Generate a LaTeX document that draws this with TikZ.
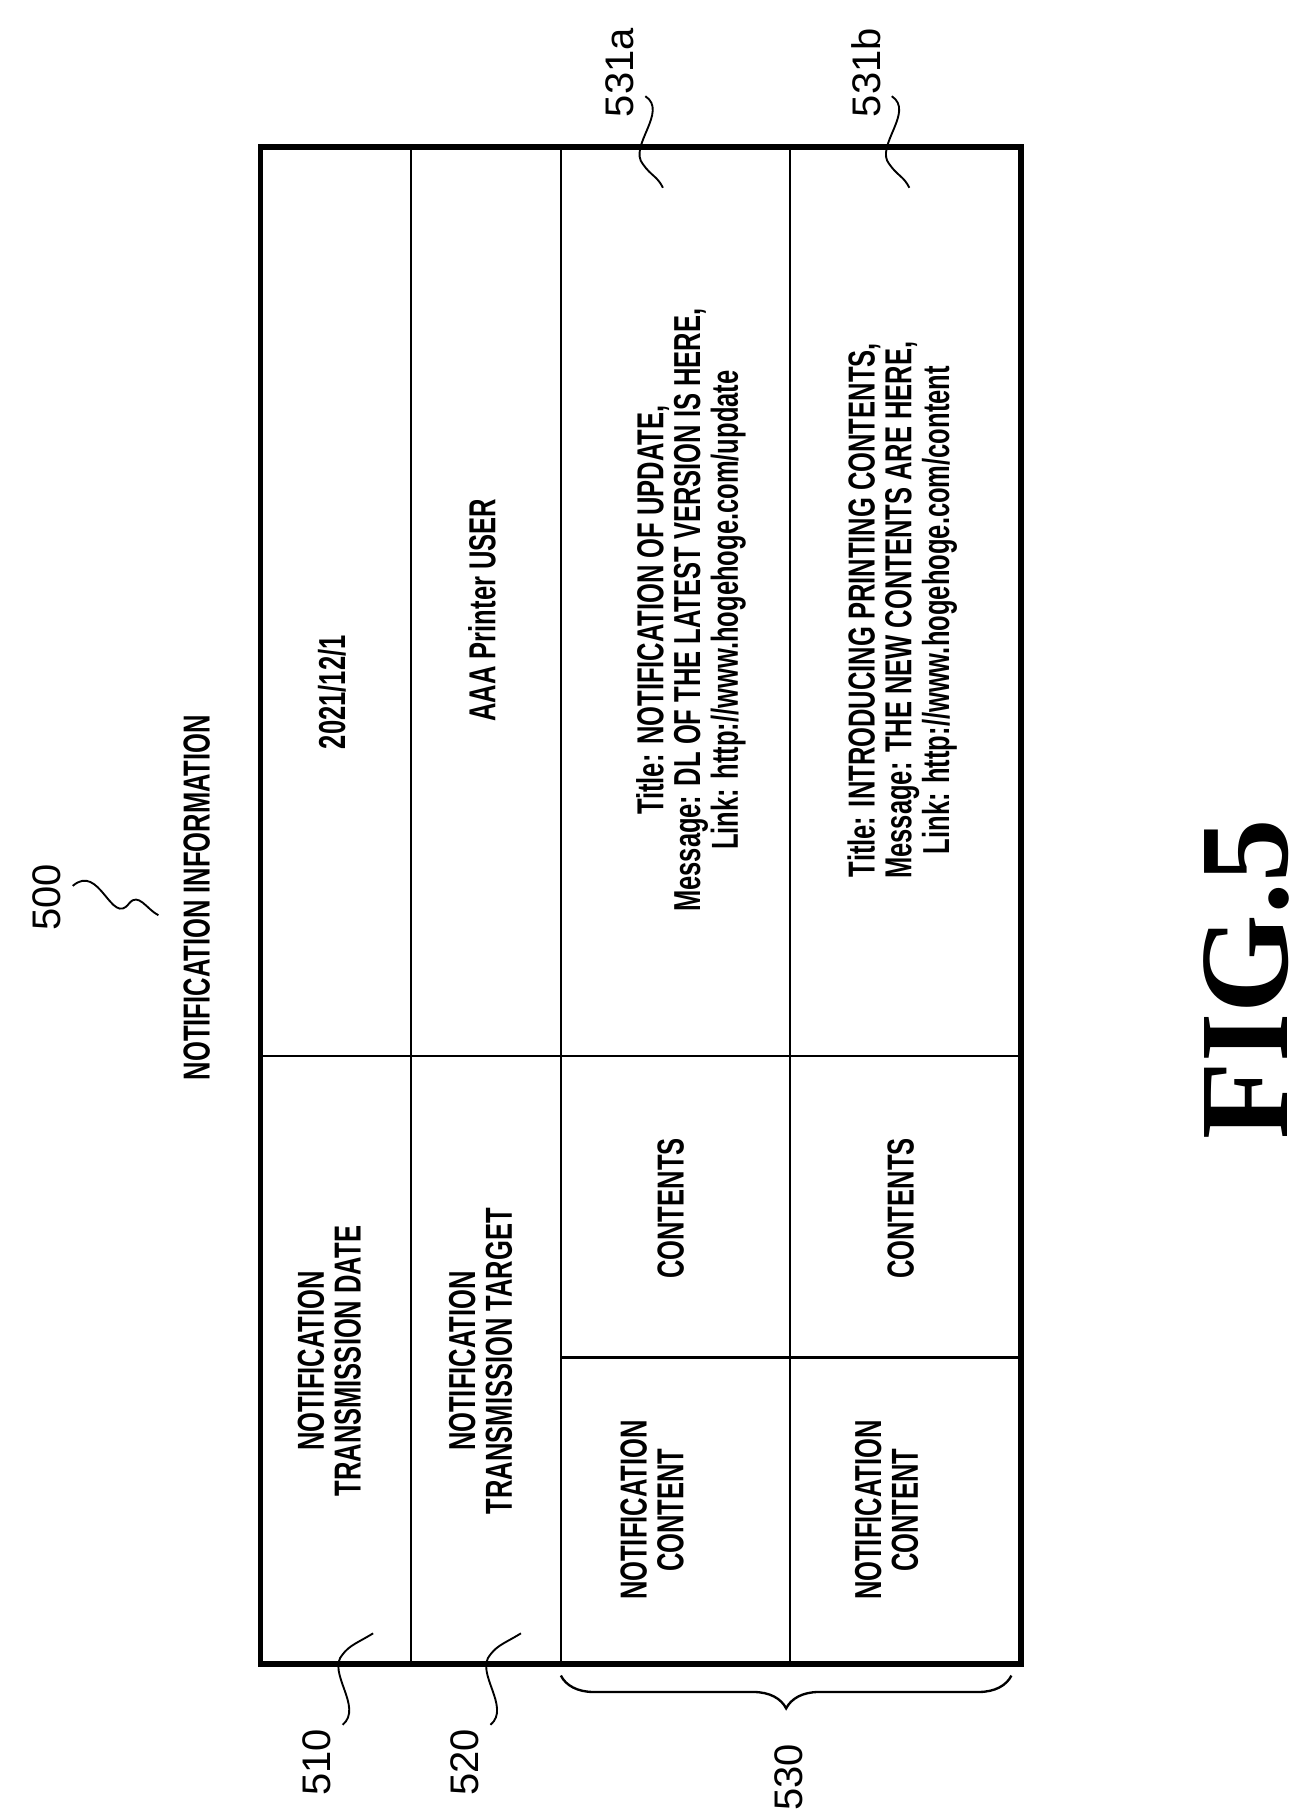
\documentclass[tikz,border=0pt]{standalone}
\usepackage{fontspec}
\setmainfont{Liberation Sans}
\newfontfamily\serifb{Liberation Serif}
\usetikzlibrary{decorations.pathreplacing}
\newcommand{\cond}[1]{\scalebox{0.68}[1]{\begin{tabular}{@{}c@{}}#1\end{tabular}}}
\begin{document}
\begin{tikzpicture}[x=0.5pt,y=-0.5pt,
  txt/.style={rotate=90,inner sep=0pt,font=\fontsize{16}{15}\selectfont\bfseries},
  num/.style={rotate=90,inner sep=0pt,font=\fontsize{17}{17}\selectfont},
  sq/.style={line width=0.8pt},
  ln/.style={line width=1pt}]
\useasboundingbox (0,0) rectangle (1105,1546);
% table
\draw[line width=2.5pt] (222,125) rectangle (870,1418);
\draw[ln] (350,125) -- (350,1418);
\draw[ln] (478,125) -- (478,1418);
\draw[ln] (673,125) -- (673,1418);
\draw[ln] (222,900) -- (870,900);
\draw[ln] (478,1157) -- (870,1157);
% texts
\node[txt] (title) at (172,765) {\cond{NOTIFICATION INFORMATION}};
\node[txt] (l1) at (285,1160) {\cond{NOTIFICATION\\TRANSMISSION DATE}};
\node[txt] (v1) at (287,590) {\cond{2021/12/1}};
\node[txt] (l2) at (414,1160) {\cond{NOTIFICATION\\TRANSMISSION TARGET}};
\node[txt] (v2) at (415,520) {\cond{AAA Printer USER}};
\node[txt] (l3a) at (560,1287) {\cond{NOTIFICATION\\CONTENT}};
\node[txt] (l3b) at (576,1030) {\cond{CONTENTS}};
\node[txt] (v3) at (590,520) {\cond{Title: NOTIFICATION OF UPDATE,\\Message: DL OF THE LATEST VERSION IS HERE,\\Link: http://www.hogehoge.com/update}};
\node[txt] (l4a) at (760,1287) {\cond{NOTIFICATION\\CONTENT}};
\node[txt] (l4b) at (772,1030) {\cond{CONTENTS}};
\node[txt] (v4) at (770,520) {\cond{Title: INTRODUCING PRINTING CONTENTS,\\Message: THE NEW CONTENTS ARE HERE,\\Link: http://www.hogehoge.com/content}};
% labels
\node[num] (n500) at (40,765) {500};
\draw[sq] (62,755) .. controls (85,735) and (95,790) .. (110,770) .. controls (118,760) and (125,775) .. (135,780);
\node[num] (n531a) at (528,62) {531a};
\draw[sq] (550,82) .. controls (570,95) and (535,125) .. (548,140) .. controls (555,150) and (560,150) .. (565,160);
\node[num] (n531b) at (738,62) {531b};
\draw[sq] (760,82) .. controls (780,95) and (745,125) .. (758,140) .. controls (765,150) and (770,150) .. (775,160);
\node[num] (n510) at (270,1502) {510};
\draw[sq] (292,1470) .. controls (310,1455) and (278,1425) .. (292,1410) .. controls (298,1402) and (305,1400) .. (318,1392);
\node[num] (n520) at (396,1502) {520};
\draw[sq] (418,1470) .. controls (436,1455) and (404,1425) .. (418,1410) .. controls (424,1402) and (431,1400) .. (444,1392);
\draw[line width=1pt,decorate,decoration={brace,amplitude=14pt}] (862,1428) -- (478,1428);
\node[num] (n530) at (672,1515) {530};
% figure
\node[rotate=90,inner sep=0pt,font=\serifb\fontsize{54}{54}\selectfont\bfseries] (fig) at (1062,835) {FIG.5};
\end{tikzpicture}
\end{document}
